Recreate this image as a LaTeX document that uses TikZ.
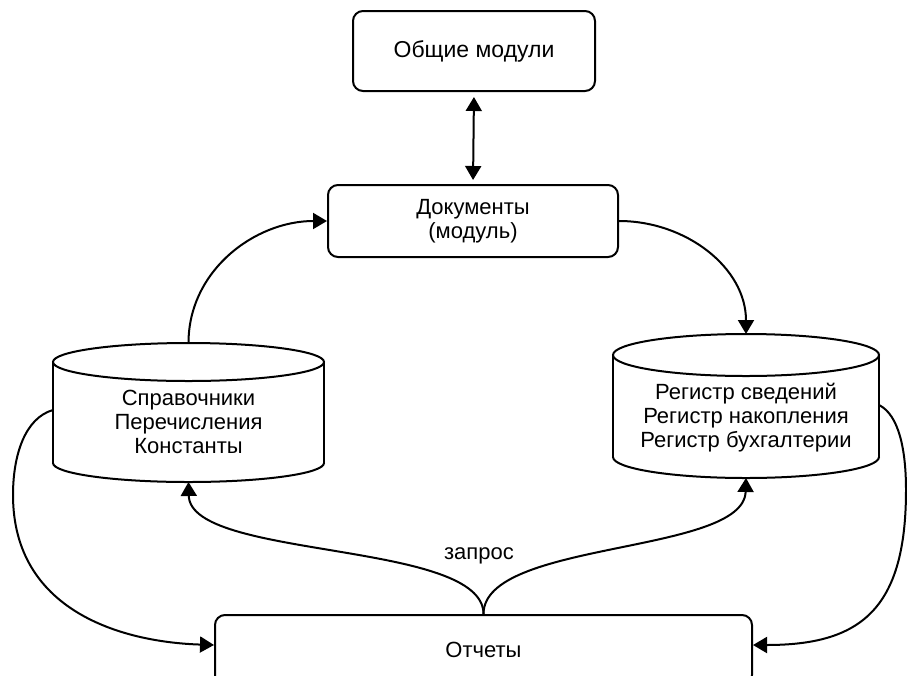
\documentclass[tikz,border=0pt]{standalone}
\usepackage{fontspec}
\setmainfont{Liberation Sans}
\usetikzlibrary{arrows.meta}
\begin{document}
\begin{tikzpicture}[x=1pt,y=-1pt,
  every node/.style={font=\fontsize{22}{24}\selectfont},
  box/.style={draw, line width=2pt, rounded corners=10pt, align=center, inner sep=0pt},
  ln/.style={line width=2pt},
  tip/.tip={Triangle[length=14pt,width=16pt]},
  arr/.style={line width=2pt, -tip}]
\useasboundingbox (0,0) rectangle (907,675);
% boxes
\node[box, minimum width=242pt, minimum height=80pt, font=\fontsize{23}{25}\selectfont] (obsh) at (474,51) {Общие модули};
\node[box, minimum width=290pt, minimum height=72pt] (doc) at (473,221) {Документы\\(модуль)};
\node[box, minimum width=537pt, minimum height=70pt] (rep) at (483.5,650) {Отчеты};
% left cylinder
\draw[ln] (53,362) -- (53,463);
\draw[ln] (324,362) -- (324,463);
\draw[ln] (188.5,362) ellipse [x radius=135.5, y radius=19];
\begin{scope}
  \clip (40,463) rectangle (340,495);
  \draw[ln] (188.5,463) ellipse [x radius=135.5, y radius=19];
\end{scope}
\node[align=center] (spr) at (188.5,422) {Справочники\\Перечисления\\Константы};
\coordinate (sprT) at (188.5,343);
\coordinate (sprB) at (188.5,482);
\coordinate (sprW) at (53,410);
% right cylinder
\draw[ln] (613,355) -- (613,457);
\draw[ln] (879,355) -- (879,457);
\draw[ln] (746,355) ellipse [x radius=133, y radius=21];
\begin{scope}
  \clip (600,457) rectangle (895,490);
  \draw[ln] (746,457) ellipse [x radius=133, y radius=21];
\end{scope}
\node[align=center] (reg) at (746,418) {Регистр сведений\\Регистр накопления\\Регистр бухгалтерии};
\coordinate (regT) at (746,334);
\coordinate (regB) at (746,478);
\coordinate (regE) at (879,405);
% connectors
\draw[line width=2pt, tip-tip, shorten <=5pt, shorten >=4pt] (obsh.south) -- (doc.north);
\draw[arr] (sprT) to[out=90,in=180] (doc.west);
\draw[arr] (doc.east) to[out=0,in=90] (regT);
\draw[arr] (rep.north) .. controls (483.5,540) and (190,560) .. (sprB);
\draw[arr] (rep.north) .. controls (483.5,540) and (744,555) .. (regB);
\draw[arr] (sprW) .. controls (25,418) and (13,455) .. (13,495) .. controls (13,610) and (120,642) .. ([yshift=5pt]rep.west);
\draw[arr] (regE) .. controls (899,415) and (906,450) .. (906,490) .. controls (906,610) and (860,645) .. ([yshift=5pt]rep.east);
\node (zapros) at (479,556) {запрос};
\end{tikzpicture}
\end{document}
